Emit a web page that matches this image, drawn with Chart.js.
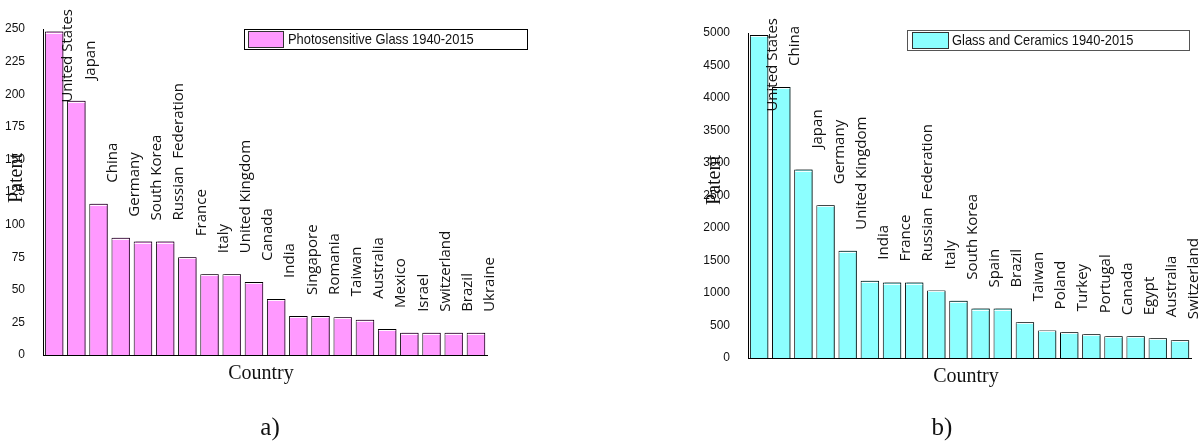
<!DOCTYPE html>
<html>
<head>
<meta charset="utf-8">
<script src="https://cdn.jsdelivr.net/npm/chart.js@4.4.1/dist/chart.umd.min.js"></script>
<style>
  html, body { margin: 0; padding: 0; background: #fff; }
  #wrap { position: relative; width: 1204px; height: 443px; overflow: hidden; }
  .panel { position: absolute; top: 0; width: 602px; height: 443px; }
  .caption {
    position: absolute; top: 414px; width: 60px; text-align: center;
    font-family: "Liberation Serif", "Times New Roman", serif;
    font-size: 25px; line-height: 1; color: #111;
  }
</style>
</head>
<body>
<div id="wrap">
  <div class="panel" style="left:0"><canvas id="photoChart" width="602" height="443"></canvas></div>
  <div class="panel" style="left:602px"><canvas id="glassChart" width="602" height="443"></canvas></div>
  <div class="caption" style="left:240px">a)</div>
  <div class="caption" style="left:912px">b)</div>
</div>
<script>
// Patent counts per country, 1940-2015
const photoCountries = ["United States", "Japan", "China", "Germany", "South Korea",
  "Russian  Federation", "France", "Italy", "United Kingdom", "Canada", "India",
  "Singapore", "Romania", "Taiwan", "Australia", "Mexico", "Israel", "Switzerland",
  "Brazil", "Ukraine"];
const photoPatents = [248, 195, 116, 90, 87, 87, 75, 62, 62, 56, 43, 30, 30, 29, 27, 20, 17, 17, 17, 17];
const photoLabel = "Photosensitive Glass 1940-2015";
const photoYMax = 250;
const photoYStep = 25;

const glassCountries = ["United States", "China", "Japan", "Germany", "United Kingdom",
  "India", "France", "Russian  Federation", "Italy", "South Korea", "Spain", "Brazil",
  "Taiwan", "Poland", "Turkey", "Portugal", "Canada", "Egypt", "Australia", "Switzerland"];
const glassPatents = [4970, 4170, 2900, 2350, 1650, 1190, 1160, 1160, 1040, 880, 760, 760,
  550, 425, 395, 365, 335, 335, 305, 275];
const glassLabel = "Glass and Ceramics 1940-2015";
const glassYMax = 5000;
const glassYStep = 500;

// Rotated country names placed just above each bar
const barLabels = {
  id: 'barLabels',
  afterDraw(chart, args, o) {
    const ctx = chart.ctx;
    const meta = chart.getDatasetMeta(0);
    const labels = chart.data.labels;
    ctx.save();
    ctx.font = o.font;
    ctx.fillStyle = o.color;
    ctx.textAlign = 'left';
    ctx.textBaseline = 'middle';
    meta.data.forEach((bar, i) => {
      const text = labels[i];
      const w = ctx.measureText(text).width;
      let start = bar.y - o.gap;
      if (start - w < o.minTop) start = o.minTop + w;
      ctx.save();
      ctx.translate(bar.x + o.shift, start);
      ctx.rotate(-Math.PI / 2);
      ctx.fillText(text, 0, 0);
      ctx.restore();
    });
    ctx.restore();
  }
};

// Framed legend with a colour swatch
const boxLegend = {
  id: 'boxLegend',
  afterDraw(chart, args, o) {
    const ctx = chart.ctx;
    const ds = chart.data.datasets[0];
    ctx.save();
    ctx.lineWidth = 1;
    ctx.strokeStyle = o.frameColor;
    ctx.strokeRect(o.x + 0.5, o.y + 0.5, o.w, o.h);
    ctx.fillStyle = ds.backgroundColor;
    ctx.fillRect(o.x + o.swX, o.y + 2, o.swW, o.h - 3);
    ctx.strokeStyle = '#333';
    ctx.strokeRect(o.x + o.swX + 0.5, o.y + 2.5, o.swW, o.h - 4);
    ctx.font = o.font;
    ctx.fillStyle = '#111';
    ctx.textBaseline = 'middle';
    ctx.translate(o.x + o.textX, o.y + o.h / 2 + 1);
    ctx.scale(o.squeeze, 1);
    ctx.fillText(ds.label, 0, 0);
    ctx.restore();
  }
};

// Axis titles in serif type
const axisTitles = {
  id: 'axisTitles',
  afterDraw(chart, args, o) {
    const ctx = chart.ctx;
    ctx.save();
    ctx.font = o.font;
    ctx.fillStyle = '#111';
    ctx.textAlign = 'center';
    ctx.textBaseline = 'middle';
    ctx.fillText(o.xText, o.xX, o.xY);
    ctx.translate(o.yX, o.yY);
    ctx.rotate(-Math.PI / 2);
    ctx.fillText(o.yText, 0, 0);
    ctx.restore();
  }
};

// Offset shadow on the right edge of bars, plus a light rim under the top edge
const barShadow = {
  id: 'barShadow',
  beforeDatasetDraw(chart, args, o) {
    const ctx = chart.ctx;
    ctx.save();
    ctx.shadowColor = o.color;
    ctx.shadowOffsetX = 2;
    ctx.shadowOffsetY = 0;
    ctx.shadowBlur = 0;
  },
  afterDatasetDraw(chart, args) {
    const ctx = chart.ctx;
    ctx.restore();
    ctx.save();
    ctx.strokeStyle = 'rgba(255,255,255,0.9)';
    ctx.lineWidth = 1;
    args.meta.data.forEach(bar => {
      const half = bar.width / 2;
      const y = Math.round(bar.y) + 1.5;
      ctx.beginPath();
      ctx.moveTo(bar.x - half + 1, y);
      ctx.lineTo(bar.x + half - 1, y);
      ctx.stroke();
    });
    ctx.restore();
  }
};

const tickFont = { family: '"Liberation Sans Narrow", "Liberation Sans", Arial, sans-serif', size: 12 };

function buildChart(id, cfg) {
  return new Chart(document.getElementById(id), {
    type: 'bar',
    data: {
      labels: cfg.labels,
      datasets: [{
        label: cfg.title,
        data: cfg.values,
        backgroundColor: cfg.fill,
        borderColor: '#000',
        borderWidth: { top: 1, left: 1, right: 1, bottom: 0 },
        categoryPercentage: 1,
        barPercentage: 0.83
      }]
    },
    options: {
      responsive: false,
      animation: false,
      devicePixelRatio: 1,
      layout: { padding: cfg.padding },
      plugins: {
        legend: { display: false },
        tooltip: { enabled: false },
        barLabels: { font: '15px "Open Sans", "Noto Sans", sans-serif', color: '#111', gap: 21, shift: 14, minTop: cfg.minTop },
        boxLegend: cfg.legend,
        axisTitles: cfg.titles,
        barShadow: { color: cfg.shadow }
      },
      scales: {
        x: {
          grid: { display: false },
          border: { color: '#000', width: 1 },
          ticks: { display: false },
          afterFit(s) { s.height = 0; }
        },
        y: {
          min: 0,
          max: cfg.max,
          grid: { display: false },
          border: { color: '#000', width: 1 },
          ticks: {
            stepSize: cfg.step, padding: 10, color: '#111', font: tickFont,
            callback: v => String(v)
          },
          afterFit(s) { s.width = cfg.yWidth; }
        }
      }
    },
    plugins: [barShadow, barLabels, boxLegend, axisTitles]
  });
}

const serifTitle = '20px "Liberation Serif", "Times New Roman", serif';

buildChart('photoChart', {
  labels: photoCountries,
  values: photoPatents,
  title: photoLabel,
  fill: '#FF99FF',
  shadow: 'rgba(90,40,90,0.85)',
  max: photoYMax,
  step: photoYStep,
  yWidth: 43,
  padding: { left: 0, top: 29, right: 115, bottom: 88 },
  minTop: 9,
  legend: { x: 244, y: 29, w: 283, h: 20, swX: 4, swW: 35, textX: 44, squeeze: 0.86, frameColor: '#000',
            font: '15px "Liberation Sans", Arial, sans-serif' },
  titles: { font: serifTitle, xText: 'Country', xX: 261, xY: 374, yText: 'Patent', yX: 17, yY: 178 }
});

buildChart('glassChart', {
  labels: glassCountries,
  values: glassPatents,
  title: glassLabel,
  fill: '#8CFFFF',
  shadow: 'rgba(40,70,70,0.85)',
  max: glassYMax,
  step: glassYStep,
  yWidth: 46,
  padding: { left: 100, top: 33, right: 13, bottom: 85 },
  minTop: 18,
  legend: { x: 305, y: 30, w: 282, h: 20, swX: 5, swW: 36, textX: 45, squeeze: 0.86, frameColor: '#555',
            font: '15px "Liberation Sans", Arial, sans-serif' },
  titles: { font: serifTitle, xText: 'Country', xX: 364, xY: 377, yText: 'Patent', yX: 113, yY: 180 }
});
</script>
</body>
</html>
